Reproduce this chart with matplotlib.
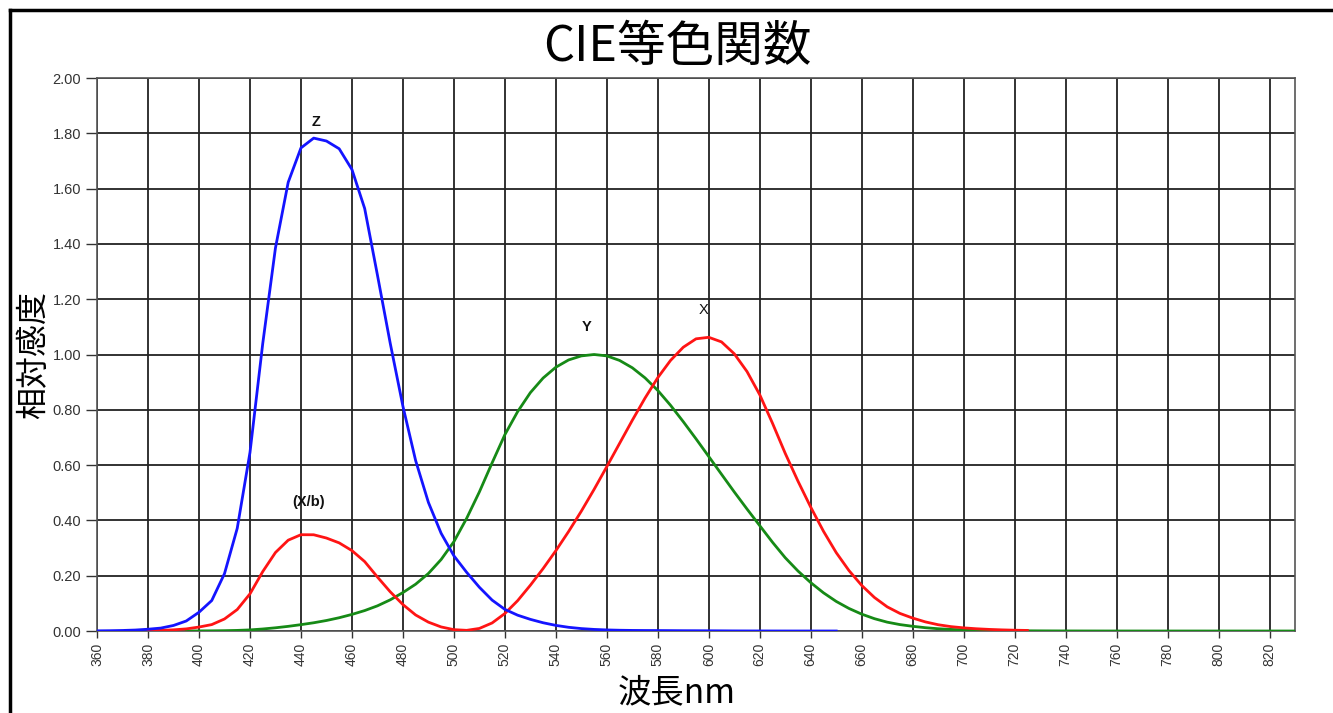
import numpy as np
import matplotlib
matplotlib.use("Agg")
import matplotlib.pyplot as plt
from matplotlib.lines import Line2D

# CIE 1931 2-degree colour matching functions, 5 nm steps
wavelength = np.arange(360, 835, 5)

x_bar = [0.00013, 0.00023, 0.00042, 0.00074, 0.00137, 0.00224, 0.00424, 0.00765,
         0.01431, 0.02319, 0.04351, 0.07763, 0.13438, 0.21477, 0.2839, 0.3285,
         0.34828, 0.34806, 0.3362, 0.3187, 0.2908, 0.2511, 0.19536, 0.1421,
         0.09564, 0.05795, 0.03201, 0.0147, 0.0049, 0.0024, 0.0093, 0.0291,
         0.06327, 0.1096, 0.1655, 0.22575, 0.2904, 0.3597, 0.43345, 0.51205,
         0.5945, 0.6784, 0.7621, 0.8425, 0.9163, 0.9786, 1.0263, 1.0567,
         1.0622, 1.0456, 1.0026, 0.9384, 0.85445, 0.7514, 0.6424, 0.5419,
         0.4479, 0.3608, 0.2835, 0.2187, 0.1649, 0.1212, 0.0874, 0.0636,
         0.04677, 0.0329, 0.0227, 0.01584, 0.01136, 0.00811, 0.00579, 0.00411,
         0.0029, 0.00205, 0.00144, 0.001, 0.00069, 0.00048, 0.00033, 0.00024,
         0.00017, 0.00012, 0.00008, 0.00006, 0.00004, 0.00003, 0.00002, 0.00002,
         0.00001, 0.00001, 0.00001, 0.0, 0.0, 0.0, 0.0]

y_bar = [0.0, 0.00001, 0.00001, 0.00002, 0.00004, 0.00006, 0.00012, 0.00022,
         0.0004, 0.00064, 0.00121, 0.00218, 0.004, 0.0073, 0.0116, 0.01684,
         0.023, 0.0298, 0.038, 0.048, 0.06, 0.0739, 0.09098, 0.1126,
         0.13902, 0.1693, 0.20802, 0.2586, 0.323, 0.4073, 0.503, 0.6082,
         0.71, 0.7932, 0.862, 0.91485, 0.954, 0.9803, 0.99495, 1.0,
         0.995, 0.9786, 0.952, 0.9154, 0.87, 0.8163, 0.757, 0.6949,
         0.631, 0.5668, 0.503, 0.4412, 0.381, 0.321, 0.265, 0.217,
         0.175, 0.1382, 0.107, 0.0816, 0.061, 0.04458, 0.032, 0.0232,
         0.017, 0.01192, 0.00821, 0.00572, 0.0041, 0.00293, 0.00209, 0.00148,
         0.00105, 0.00074, 0.00052, 0.00036, 0.00025, 0.00017, 0.00012, 0.00008,
         0.00006, 0.00004, 0.00003, 0.00002, 0.00001, 0.00001, 0.00001, 0.0,
         0.0, 0.0, 0.0, 0.0, 0.0, 0.0, 0.0]

z_bar = [0.00061, 0.00109, 0.00195, 0.00349, 0.00645, 0.01055, 0.02005, 0.03621,
         0.06785, 0.1102, 0.2074, 0.3713, 0.6456, 1.03905, 1.3856, 1.62296,
         1.74706, 1.7826, 1.77211, 1.7441, 1.6692, 1.5281, 1.28764, 1.0419,
         0.81295, 0.6162, 0.46518, 0.3533, 0.272, 0.2123, 0.1582, 0.1117,
         0.07825, 0.05725, 0.04216, 0.02984, 0.0203, 0.0134, 0.00875, 0.00575,
         0.0039, 0.00275, 0.0021, 0.0018, 0.00165, 0.0014, 0.0011, 0.001,
         0.0008, 0.0006, 0.00034, 0.00024, 0.00019, 0.0001, 0.00005, 0.00003,
         0.00002, 0.00001, 0.0]

red_start = 380
red_end = 725
green_start = 395

curve_labels = ["Z", "Y", "X", "(X/b)"]
label_pos = [(446, 1.84), (552, 1.10), (598, 1.16), (443, 0.466)]
label_bold = [True, True, False, True]

plt.rcParams['font.family'] = ['Liberation Sans', 'DejaVu Sans']
cjk = ['Noto Sans CJK JP', 'DejaVu Sans']

fig = plt.figure(figsize=(13.33, 7.13), dpi=100)
ax = fig.add_axes([0.0728, 0.115, 0.8987, 0.7756])

wl = np.array(wavelength)
xb = np.array(x_bar)
yb = np.array(y_bar)
zb = np.array(z_bar)

g = wl >= green_start
ax.plot(wl[g], yb[g], color='#168a16', lw=2.0, zorder=3, solid_joinstyle='round')
r = (wl >= red_start) & (wl <= red_end)
ax.plot(wl[r], xb[r], color='#ff1414', lw=2.0, zorder=4, solid_joinstyle='round')
ax.plot(wl[:len(zb)], zb, color='#1414ff', lw=2.0, zorder=5, solid_joinstyle='round')

for txt, (px, py), b in zip(curve_labels, label_pos, label_bold):
    ax.text(px, py, txt, ha='center', va='center', fontsize=10.5,
            fontweight='bold' if b else 'normal', color='#111111')

ax.set_xlim(360, 830)
ax.set_ylim(0, 2.0)
ax.set_xticks(np.arange(360, 821, 20))
ax.set_yticks(np.arange(0, 2.01, 0.2))
ax.set_yticklabels([f"{v:.2f}" for v in np.arange(0, 2.01, 0.2)])
ax.tick_params(axis='x', labelrotation=90, labelsize=10, colors='#333333',
               length=5, width=1)
ax.tick_params(axis='y', labelsize=10.5, colors='#333333', length=8, width=1)
ax.grid(True, color='#222222', lw=1.3)
ax.set_axisbelow(True)
for s in ax.spines.values():
    s.set_color('#555555')
    s.set_linewidth(1.2)

fig.text(677 / 1333, 1 - 47 / 713, "CIE等色関数", ha='center', va='center',
         fontsize=35, family=cjk)
ax.set_ylabel("相対感度", family=cjk, fontsize=23, labelpad=2)
ax.set_xlabel("波長nm", family=cjk, fontsize=24, va='center')
ax.xaxis.set_label_coords((677 - 97) / 1198, -(693 - 631) / 553)

# frame around the figure (left and top edges visible)
fig.add_artist(Line2D([10 / 1333, 10 / 1333], [0, 1 - 10 / 713],
                      transform=fig.transFigure, color='black', lw=2.5))
fig.add_artist(Line2D([10 / 1333, 1], [1 - 10 / 713, 1 - 10 / 713],
                      transform=fig.transFigure, color='black', lw=2.5))

fig.savefig("out.png", dpi=100)
